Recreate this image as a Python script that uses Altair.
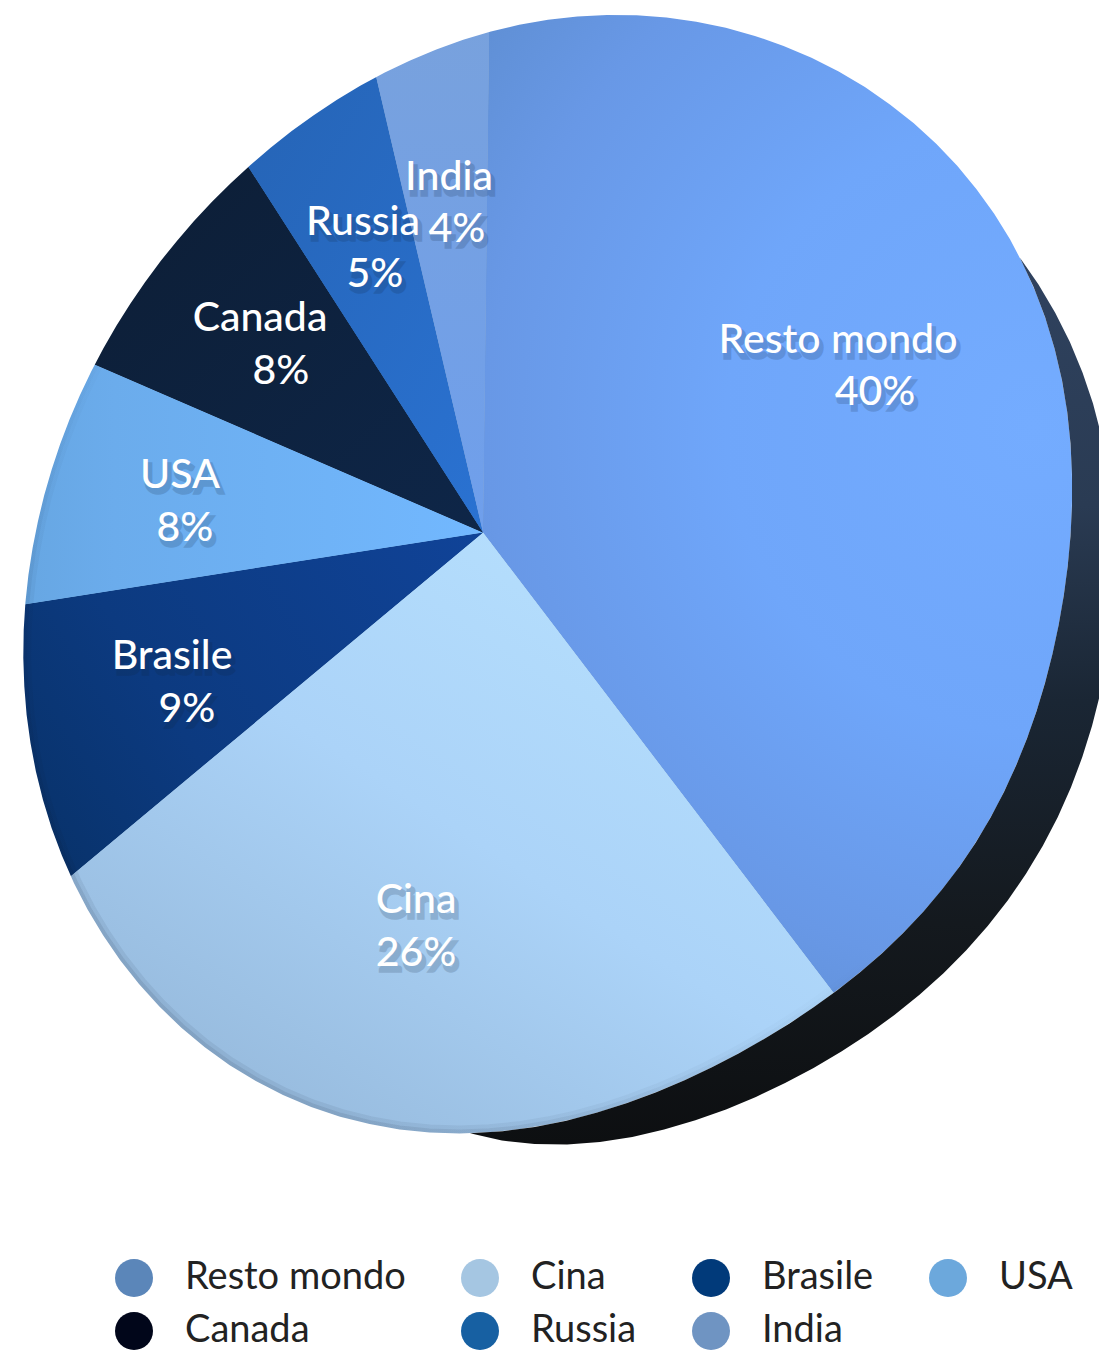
import math
import altair as alt
import numpy as np
import pandas as pd

# Share of the total per area
categories = ["Resto mondo", "Cina", "Brasile", "USA", "Canada", "Russia", "India"]
shares = [40, 26, 9, 8, 8, 5, 4]
legend_colors = ["#5b86b9", "#a5c6e2", "#013a7a", "#6ca8dc", "#01061a", "#1760a2", "#6f94c2"]

FONT = "Lato"
W, H = 1099, 1350
CENTER = (483, 532.5)

# The disc is drawn in perspective, so equal shares do not span equal angles:
# the theta scale is piecewise, one segment per slice.
slice_edges_deg = [0.7, 142.7, 230.2, 261.1, 293.4, 327.3, 346.8, 360.7]

ends = pd.Series(shares).cumsum()
df = pd.DataFrame({
    "area": categories,
    "share": shares,
    "start": ends - pd.Series(shares),
    "end": ends,
})
theta_scale = alt.Scale(
    domain=[0] + ends.tolist(),
    range=[math.radians(d) for d in slice_edges_deg],
)


def linear(x1, y1, x2, y2, stops):
    return {
        "gradient": "linear", "x1": x1, "y1": y1, "x2": x2, "y2": y2,
        "stops": [{"offset": o, "color": c} for o, c in stops],
    }


def radial(x, y, r, stops):
    return {
        "gradient": "radial", "x1": x, "y1": y, "r1": 0, "x2": x, "y2": y, "r2": r,
        "stops": [{"offset": o, "color": c} for o, c in stops],
    }


# Shading of the top face, slice by slice
slice_fills = {
    "Resto mondo": radial(0.72, 0.46, 0.62, [(0, "#74acff"), (0.45, "#6fa6fa"), (0.8, "#6898e6"), (1, "#5f8fd4")]),
    "Cina": linear(0.95, 0.05, 0.15, 0.95, [(0, "#b9e3ff"), (0.5, "#abd3f8"), (1, "#93b6d8")]),
    "Brasile": linear(1, 0, 0, 0.4, [(0, "#104398"), (0.6, "#0c3a80"), (1, "#073064")]),
    "USA": linear(1, 0.5, 0, 0.5, [(0, "#72b8ff"), (0.6, "#6bacec"), (1, "#5f9dd2")]),
    "Canada": linear(1, 1, 0, 0, [(0, "#0e2648"), (0.6, "#0d1f38"), (1, "#09121c")]),
    "Russia": linear(1, 1, 0, 0, [(0, "#2a72d2"), (1, "#245fab")]),
    "India": linear(0.5, 1, 0.5, 0, [(0, "#6f9fec"), (1, "#7aa2da")]),
}

# Points on the outline of the top face, clockwise from its highest point
front_trace = np.array([
    (620, 15), (673, 18), (725, 27), (795, 48), (848, 77), (900, 115), (935, 145),
    (970, 180), (1005, 230), (1033, 283), (1054, 344), (1068, 421), (1072, 497),
    (1070, 550), (1054, 637), (1033, 724), (998, 807), (953, 874), (900, 937),
    (834, 993), (778, 1028), (725, 1060), (637, 1103), (550, 1125), (470, 1133),
    (438, 1131), (368, 1121), (298, 1104), (238, 1072), (182, 1028), (140, 985),
    (105, 941), (72, 876), (53, 827), (35, 771), (26, 708), (23.5, 641), (25, 605),
    (42, 497), (67, 429), (95, 365), (168, 253), (247, 166), (376, 77), (489, 34),
    (550, 19),
], dtype=float)
# Points on the outer edge of the disc's thickness
back_trace = np.array([
    (1054, 318), (1082, 375), (1099, 417), (1099, 708), (1075, 783), (1040, 850),
    (998, 910), (935, 969), (900, 1013), (830, 1064), (760, 1100), (690, 1123),
    (620, 1137), (567, 1142), (509, 1137),
], dtype=float)

HUB = np.array([548.0, 575.0])
ORDER = 6


def polar(points):
    d = points - HUB
    return np.arctan2(d[:, 1], d[:, 0]), np.hypot(d[:, 0], d[:, 1])


def fourier_basis(phi):
    cols = [np.ones_like(phi)]
    for k in range(1, ORDER + 1):
        cols += [np.cos(k * phi), np.sin(k * phi)]
    return np.column_stack(cols)


# Smooth the hand-read outline with a low-order radial fit
phi_f, r_f = polar(front_trace)
front_coef = np.linalg.lstsq(fourier_basis(phi_f), r_f, rcond=None)[0]


def front_radius(phi):
    return fourier_basis(phi) @ front_coef


def to_xy(phi, r):
    return np.column_stack([HUB[0] + r * np.cos(phi), HUB[1] + r * np.sin(phi)])


# Thickness: zero where the rim meets the top face, fitted in between
RIM_FROM = math.atan2(258 - 575, 1019 - 548)
RIM_TO = math.atan2(1133 - 575, 470 - 548)
phi_b, r_b = polar(back_trace)
s_b = (phi_b - RIM_FROM) / (RIM_TO - RIM_FROM)
thick_basis = lambda s: np.column_stack([s * (1 - s), s**2 * (1 - s), s**3 * (1 - s), s**4 * (1 - s)])
thick_coef = np.linalg.lstsq(thick_basis(s_b), r_b - front_radius(phi_b), rcond=None)[0]

face_phi = np.linspace(-math.pi, math.pi, 121)[:-1]
face_xy = to_xy(face_phi, front_radius(face_phi))
rim_phi = np.linspace(RIM_FROM, RIM_TO, 41)
rim_s = (rim_phi - RIM_FROM) / (RIM_TO - RIM_FROM)
rim_outer = to_xy(rim_phi, front_radius(rim_phi) + np.maximum(thick_basis(rim_s) @ thick_coef, 0))
rim_inner = to_xy(rim_phi[::-1], front_radius(rim_phi[::-1]))


def poly(points, closed=True):
    head = "M" + " L".join(f"{x:.1f},{y:.1f}" for x, y in points)
    return head + (" Z" if closed else "")


face_path = poly(face_xy)
# White surround with the top face cut out (the hole winds the opposite way)
mask_path = "M-140,-140 H1240 V1190 H-140 Z " + poly(face_xy[::-1])
rim_path = poly(np.vstack([rim_outer, rim_inner]))

one = pd.DataFrame({"k": [0]})


def shape_layer(path, filled=True, **mark):
    # size 4 makes one path unit equal one pixel
    return alt.Chart(one).mark_point(shape=path, size=4, opacity=1, filled=filled, **mark).encode(
        x=alt.value(0), y=alt.value(0)
    )


angle = dict(
    theta=alt.Theta("start:Q", scale=theta_scale),
    theta2=alt.Theta2("end:Q"),
    x=alt.value(CENTER[0]),
    y=alt.value(CENTER[1]),
)

base = alt.Chart(df).mark_arc(outerRadius=615, clip=True).encode(
    color=alt.Color(
        "area:N",
        scale=alt.Scale(domain=categories, range=legend_colors),
        legend=alt.Legend(
            orient="none", legendX=115, legendY=1259, columns=4, title=None,
            direction="horizontal",
            symbolType="circle", symbolSize=1444, symbolStrokeWidth=0, symbolOpacity=1,
            labelFont=FONT, labelFontSize=38, labelColor="#222222", labelOffset=32,
            columnPadding=55, rowPadding=15, labelLimit=400,
        ),
    ),
    **angle,
)

shaded = [
    alt.Chart(df[df["area"] == name]).mark_arc(outerRadius=615, clip=True, fill=fill).encode(**angle)
    for name, fill in slice_fills.items()
]


# Soft bevel along the lower left edge of the face
def bevel(width, alpha):
    return shape_layer(
        face_path, filled=False, strokeWidth=width,
        stroke=linear(0.72, 0.28, 0.2, 0.9, [(0, "rgba(10,20,40,0)"), (0.45, "rgba(10,20,40,0)"), (1, f"rgba(10,20,40,{alpha})")]),
    )


# Label anchors: name line and percentage line
anchors = {
    "Resto mondo": ((838, 341), (875, 393)),
    "Cina": ((416, 901), (416, 954)),
    "Brasile": ((172, 657), (187, 710)),
    "USA": ((180, 476), (185, 529)),
    "Canada": ((260, 319), (281, 372)),
    "Russia": ((363, 223), (375, 275)),
    "India": ((449, 178), (457, 230)),
}
rows = []
for name, share in zip(categories, shares):
    (nx, ny), (px, py) = anchors[name]
    rows.append({"label": name, "lx": nx, "ly": ny})
    rows.append({"label": f"{share}%", "lx": px, "ly": py})
labels = pd.DataFrame(rows)


def text_layer(color, opacity, dx=0, dy=0, **extra):
    return alt.Chart(labels).mark_text(
        font=FONT, fontSize=41, fontWeight=500, color=color, opacity=opacity,
        align="center", baseline="middle", dx=dx, dy=dy, **extra,
    ).encode(
        x=alt.X("lx:Q", scale=None),
        y=alt.Y("ly:Q", scale=None),
        text="label:N",
    )


chart = alt.layer(
    base,
    *shaded,
    bevel(16, 0.07),
    bevel(8, 0.09),
    shape_layer(mask_path, fill="#ffffff", strokeWidth=0),
    shape_layer(
        rim_path, strokeWidth=0,
        fill=linear(0.5, 0, 0.5, 1, [(0, "#2f425f"), (0.28, "#2a3b53"), (0.5, "#1a2634"), (0.75, "#14191e"), (1, "#0d0f11")]),
    ),
    text_layer("#10243c", 0.17, 3, 5, stroke="#10243c", strokeWidth=3.5),
    text_layer("#ffffff", 1),
).properties(
    width=W, height=H, padding=0, autosize=alt.AutoSizeParams(type="none"),
    background="#ffffff",
).configure_view(stroke=None)

chart.save("out.html", embed_options={"renderer": "svg", "actions": False})
